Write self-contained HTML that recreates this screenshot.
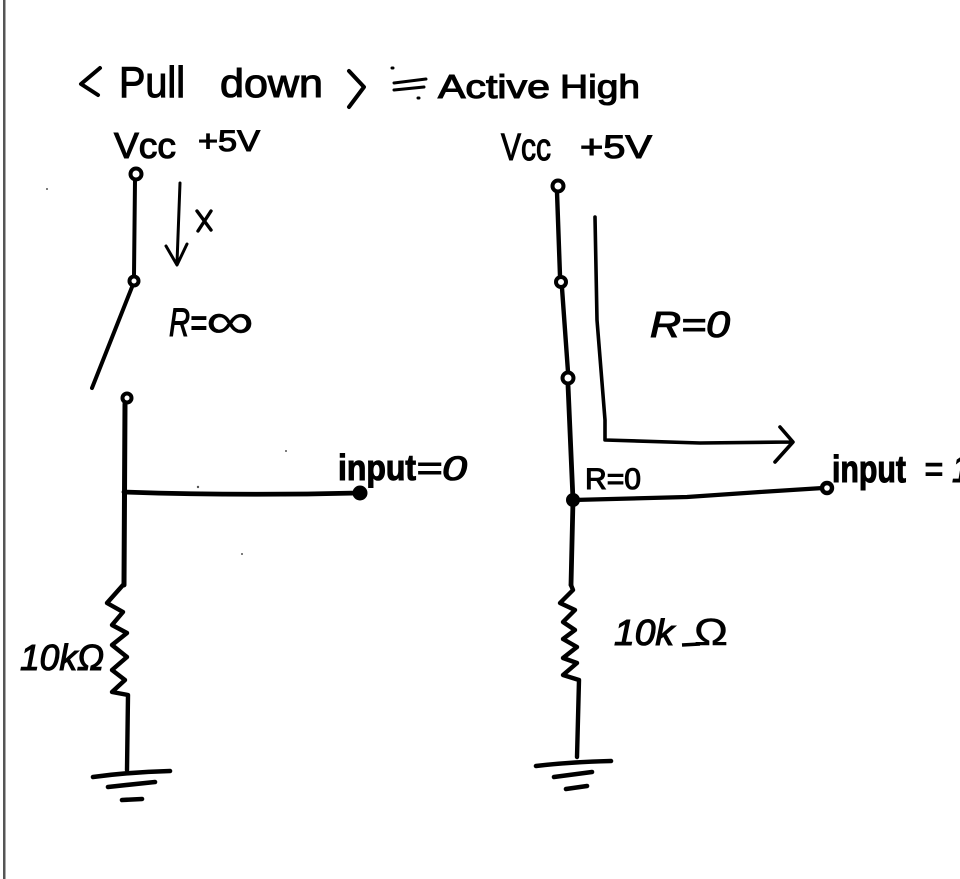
<!DOCTYPE html>
<html><head><meta charset="utf-8"><style>
html,body{margin:0;padding:0;background:#fff}
svg{display:block}
text{font-family:"Liberation Sans",sans-serif;fill:#000;stroke:#000;stroke-width:1.1}
</style></head><body>
<svg width="960" height="879" viewBox="0 0 960 879" xmlns="http://www.w3.org/2000/svg">
<rect width="960" height="879" fill="#fff"/>
<rect x="3" y="0" width="2.5" height="879" fill="#555"/>
<g fill="none" stroke="#000" stroke-width="4" stroke-linecap="round" stroke-linejoin="round">
<!-- title marks -->
<path d="M100 68 L81 84 L98 95"/>
<path d="M349 71 L364 87 L349 107"/>
<path d="M394 83 L426 79 M394 90 L424 87" stroke-width="3"/>
<path d="M392 68 h1 M418 98 h1" stroke-width="3"/>
<!-- left -->
<circle cx="136" cy="174" r="5.5" fill="#fff"/>
<path d="M135 180 L134 275"/>
<circle cx="134" cy="281" r="4.5" fill="#fff"/>
<path d="M132 287 L92 388"/>
<path d="M180 183 L177 263 M166 246 L177 265 L187 244" stroke-width="3"/>
<path d="M197 211 L211 230 M211 211 L198 231" stroke-width="3.4"/>
<circle cx="127" cy="398" r="4.5" fill="#fff"/>
<path d="M125 404 L124 585" stroke-width="5"/>
<path d="M123 585 L107 603 L123 612 L112 625 L127 633 L112 645 L127 657 L112 670 L125 680 L112 692 L128 695 L127 770" stroke-width="4.4"/>
<path d="M124 492 Q240 496 358 493" stroke-width="4.8"/>
<circle cx="360" cy="493" r="5.5" fill="#000"/>
<path d="M93 777 Q130 772 170 771 M108 787 L155 782 M122 800 L142 799" stroke-width="4.6"/>
<!-- right -->
<circle cx="558" cy="186" r="5.5" fill="#fff"/>
<path d="M557 192 L560 276" stroke-width="4.4"/>
<circle cx="561" cy="282" r="5" fill="#fff"/>
<path d="M562 288 L568 372" stroke-width="4.4"/>
<circle cx="568" cy="378" r="5.5" fill="#fff"/>
<path d="M568 385 L573 500 L571 585" stroke-width="4.8"/>
<path d="M571 585 L573 590 L560 603 L575 610 L563 622 L575 630 L563 639 L577 647 L563 658 L577 663 L563 675 L579 680 L577 757" stroke-width="4.4"/>
<path d="M573 500 L687 497 L760 492 L823 488" stroke-width="4.2"/>
<circle cx="573" cy="500" r="5" fill="#000"/>
<circle cx="827" cy="488" r="5" fill="#fff" stroke-width="4.4"/>
<path d="M595 217 L597 320 L605 420 L605 440 L700 443 L790 442 M780 427 L793 442 L775 462" stroke-width="3.6"/>
<path d="M536 766 Q570 762 611 761 M554 777 L592 772 M566 789 L587 786" stroke-width="4.6"/>
</g>
<!-- labels -->
<text x="119" y="97" font-size="44" textLength="66" lengthAdjust="spacingAndGlyphs">Pull</text>
<text x="220" y="97" font-size="40" textLength="103" lengthAdjust="spacingAndGlyphs">down</text>
<text x="438" y="98" font-size="33" textLength="112" lengthAdjust="spacingAndGlyphs">Active</text>
<text x="560" y="98" font-size="33" textLength="80" lengthAdjust="spacingAndGlyphs">High</text>
<text x="114" y="158" font-size="36" textLength="62" lengthAdjust="spacingAndGlyphs">Vcc</text>
<text x="198" y="151" font-size="30" textLength="62" lengthAdjust="spacingAndGlyphs">+5V</text>
<text x="169" y="336" font-size="40" font-style="italic" textLength="38" lengthAdjust="spacingAndGlyphs">R=</text>
<text x="206" y="338" font-size="50" textLength="48" lengthAdjust="spacingAndGlyphs" style="stroke-width:.3">∞</text>
<text x="338" y="480" font-size="36" font-weight="bold" textLength="78" lengthAdjust="spacingAndGlyphs">input</text>
<text x="416" y="480" font-size="34" font-style="italic" textLength="51" lengthAdjust="spacingAndGlyphs">=0</text>
<text x="20" y="670" font-size="36" font-style="italic" textLength="84" lengthAdjust="spacingAndGlyphs">10kΩ</text>
<text x="501" y="160" font-size="38" textLength="50" lengthAdjust="spacingAndGlyphs">Vcc</text>
<text x="580" y="158" font-size="32" textLength="72" lengthAdjust="spacingAndGlyphs">+5V</text>
<text x="650" y="337" font-size="36" font-style="italic" textLength="80" lengthAdjust="spacingAndGlyphs">R=0</text>
<text x="585" y="489" font-size="30" textLength="56" lengthAdjust="spacingAndGlyphs">R=0</text>
<text x="832" y="482" font-size="38" font-weight="bold" textLength="74" lengthAdjust="spacingAndGlyphs">input</text>
<text x="924" y="482" font-size="38" font-style="italic" textLength="46" lengthAdjust="spacingAndGlyphs">= 1</text>
<text x="614" y="645" font-size="36" font-style="italic" textLength="60" lengthAdjust="spacingAndGlyphs">10k</text>
<text x="694" y="645" font-size="38" textLength="34" lengthAdjust="spacingAndGlyphs" style="stroke-width:.5">Ω</text>
<path d="M682 645 L700 644" stroke="#000" stroke-width="3.6" fill="none"/>
<g fill="#555"><circle cx="47" cy="189" r="1"/><circle cx="198" cy="487" r="1.2"/><circle cx="242" cy="554" r="1"/><circle cx="286" cy="451" r="1"/></g>
</svg>
</body></html>
